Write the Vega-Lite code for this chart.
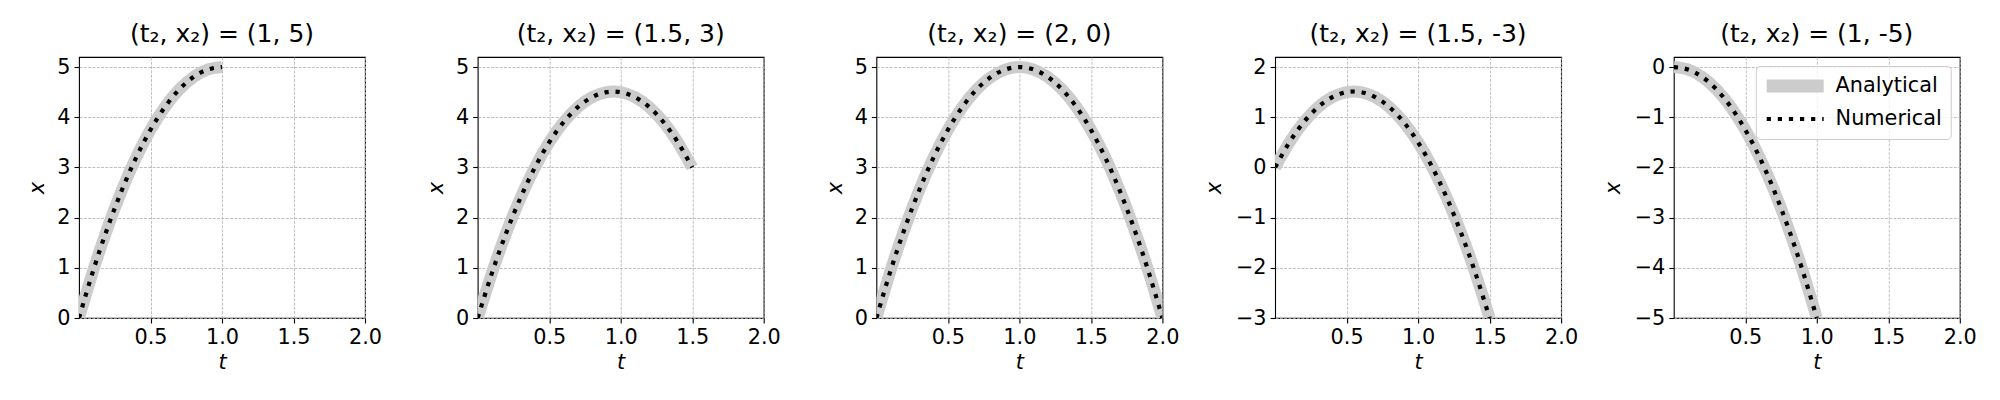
{
  "$schema": "https://vega.github.io/schema/vega-lite/v6.json",
  "background": "white",
  "padding": {"left": 26, "top": 21, "right": 0, "bottom": 0},
  "bounds": "flush",
  "spacing": 112.7,
  "datasets": {
    "traj": [
      {"p": 1, "t": 0, "x": 0}, {"p": 1, "t": 0.1, "x": 0.95}, {"p": 1, "t": 0.2, "x": 1.8}, {"p": 1, "t": 0.3, "x": 2.55}, {"p": 1, "t": 0.4, "x": 3.2}, {"p": 1, "t": 0.5, "x": 3.75}, {"p": 1, "t": 0.6, "x": 4.2}, {"p": 1, "t": 0.7, "x": 4.55}, {"p": 1, "t": 0.8, "x": 4.8}, {"p": 1, "t": 0.9, "x": 4.95}, {"p": 1, "t": 1.0, "x": 5},
      {"p": 2, "t": 0, "x": 0}, {"p": 2, "t": 0.1, "x": 0.9}, {"p": 2, "t": 0.2, "x": 1.7}, {"p": 2, "t": 0.3, "x": 2.4}, {"p": 2, "t": 0.4, "x": 3.0}, {"p": 2, "t": 0.5, "x": 3.5}, {"p": 2, "t": 0.6, "x": 3.9}, {"p": 2, "t": 0.7, "x": 4.2}, {"p": 2, "t": 0.8, "x": 4.4}, {"p": 2, "t": 0.9, "x": 4.5}, {"p": 2, "t": 1.0, "x": 4.5}, {"p": 2, "t": 1.1, "x": 4.4}, {"p": 2, "t": 1.2, "x": 4.2}, {"p": 2, "t": 1.3, "x": 3.9}, {"p": 2, "t": 1.4, "x": 3.5}, {"p": 2, "t": 1.5, "x": 3.0},
      {"p": 3, "t": 0, "x": 0}, {"p": 3, "t": 0.1, "x": 0.95}, {"p": 3, "t": 0.2, "x": 1.8}, {"p": 3, "t": 0.3, "x": 2.55}, {"p": 3, "t": 0.4, "x": 3.2}, {"p": 3, "t": 0.5, "x": 3.75}, {"p": 3, "t": 0.6, "x": 4.2}, {"p": 3, "t": 0.7, "x": 4.55}, {"p": 3, "t": 0.8, "x": 4.8}, {"p": 3, "t": 0.9, "x": 4.95}, {"p": 3, "t": 1.0, "x": 5}, {"p": 3, "t": 1.1, "x": 4.95}, {"p": 3, "t": 1.2, "x": 4.8}, {"p": 3, "t": 1.3, "x": 4.55}, {"p": 3, "t": 1.4, "x": 4.2}, {"p": 3, "t": 1.5, "x": 3.75}, {"p": 3, "t": 1.6, "x": 3.2}, {"p": 3, "t": 1.7, "x": 2.55}, {"p": 3, "t": 1.8, "x": 1.8}, {"p": 3, "t": 1.9, "x": 0.95}, {"p": 3, "t": 2.0, "x": 0},
      {"p": 4, "t": 0, "x": 0}, {"p": 4, "t": 0.1, "x": 0.5}, {"p": 4, "t": 0.2, "x": 0.9}, {"p": 4, "t": 0.3, "x": 1.2}, {"p": 4, "t": 0.4, "x": 1.4}, {"p": 4, "t": 0.5, "x": 1.5}, {"p": 4, "t": 0.6, "x": 1.5}, {"p": 4, "t": 0.7, "x": 1.4}, {"p": 4, "t": 0.8, "x": 1.2}, {"p": 4, "t": 0.9, "x": 0.9}, {"p": 4, "t": 1.0, "x": 0.5}, {"p": 4, "t": 1.1, "x": 0}, {"p": 4, "t": 1.2, "x": -0.6}, {"p": 4, "t": 1.3, "x": -1.3}, {"p": 4, "t": 1.4, "x": -2.1}, {"p": 4, "t": 1.5, "x": -3.0},
      {"p": 5, "t": 0, "x": 0}, {"p": 5, "t": 0.1, "x": -0.05}, {"p": 5, "t": 0.2, "x": -0.2}, {"p": 5, "t": 0.3, "x": -0.45}, {"p": 5, "t": 0.4, "x": -0.8}, {"p": 5, "t": 0.5, "x": -1.25}, {"p": 5, "t": 0.6, "x": -1.8}, {"p": 5, "t": 0.7, "x": -2.45}, {"p": 5, "t": 0.8, "x": -3.2}, {"p": 5, "t": 0.9, "x": -4.05}, {"p": 5, "t": 1.0, "x": -5}
    ]
  },
  "resolve": {"scale": {"color": "independent"}, "legend": {"color": "independent"}},
  "hconcat": [
    {
      "width": 286, "height": 261,
      "title": "(t₂, x₂) = (1, 5)",
      "data": {"name": "traj"},
      "transform": [{"filter": "datum.p == 1"}],
      "encoding": {
        "x": {"field": "t", "type": "quantitative", "scale": {"domain": [0, 2], "nice": false}, "axis": {"values": [0.5, 1, 1.5, 2], "format": ".1f", "title": "t"}},
        "y": {"field": "x", "type": "quantitative", "scale": {"domain": [0, 5.2], "nice": false, "zero": false}, "axis": {"values": [0, 1, 2, 3, 4, 5], "title": "x", "minExtent": 29.3, "maxExtent": 29.3}}
      },
      "layer": [
        {"mark": {"type": "line", "clip": true, "interpolate": "natural", "color": "#cccccc", "strokeWidth": 12, "strokeCap": "butt"}},
        {"mark": {"type": "line", "clip": true, "interpolate": "natural", "color": "black", "strokeWidth": 4.2, "strokeDash": [4.2, 6.9], "strokeCap": "butt"}}
      ]
    },
    {
      "width": 286, "height": 261,
      "title": "(t₂, x₂) = (1.5, 3)",
      "data": {"name": "traj"},
      "transform": [{"filter": "datum.p == 2"}],
      "encoding": {
        "x": {"field": "t", "type": "quantitative", "scale": {"domain": [0, 2], "nice": false}, "axis": {"values": [0.5, 1, 1.5, 2], "format": ".1f", "title": "t"}},
        "y": {"field": "x", "type": "quantitative", "scale": {"domain": [0, 5.2], "nice": false, "zero": false}, "axis": {"values": [0, 1, 2, 3, 4, 5], "title": "x", "minExtent": 29.3, "maxExtent": 29.3}}
      },
      "layer": [
        {"mark": {"type": "line", "clip": true, "interpolate": "natural", "color": "#cccccc", "strokeWidth": 12, "strokeCap": "butt"}},
        {"mark": {"type": "line", "clip": true, "interpolate": "natural", "color": "black", "strokeWidth": 4.2, "strokeDash": [4.2, 6.9], "strokeCap": "butt"}}
      ]
    },
    {
      "width": 286, "height": 261,
      "title": "(t₂, x₂) = (2, 0)",
      "data": {"name": "traj"},
      "transform": [{"filter": "datum.p == 3"}],
      "encoding": {
        "x": {"field": "t", "type": "quantitative", "scale": {"domain": [0, 2], "nice": false}, "axis": {"values": [0.5, 1, 1.5, 2], "format": ".1f", "title": "t"}},
        "y": {"field": "x", "type": "quantitative", "scale": {"domain": [0, 5.2], "nice": false, "zero": false}, "axis": {"values": [0, 1, 2, 3, 4, 5], "title": "x", "minExtent": 29.3, "maxExtent": 29.3}}
      },
      "layer": [
        {"mark": {"type": "line", "clip": true, "interpolate": "natural", "color": "#cccccc", "strokeWidth": 12, "strokeCap": "butt"}},
        {"mark": {"type": "line", "clip": true, "interpolate": "natural", "color": "black", "strokeWidth": 4.2, "strokeDash": [4.2, 6.9], "strokeCap": "butt"}}
      ]
    },
    {
      "width": 286, "height": 261,
      "title": "(t₂, x₂) = (1.5, -3)",
      "data": {"name": "traj"},
      "transform": [{"filter": "datum.p == 4"}],
      "encoding": {
        "x": {"field": "t", "type": "quantitative", "scale": {"domain": [0, 2], "nice": false}, "axis": {"values": [0.5, 1, 1.5, 2], "format": ".1f", "title": "t"}},
        "y": {"field": "x", "type": "quantitative", "scale": {"domain": [-3, 2.2], "nice": false, "zero": false}, "axis": {"values": [-3, -2, -1, 0, 1, 2], "title": "x", "minExtent": 48.8, "maxExtent": 48.8}}
      },
      "layer": [
        {"mark": {"type": "line", "clip": true, "interpolate": "natural", "color": "#cccccc", "strokeWidth": 12, "strokeCap": "butt"}},
        {"mark": {"type": "line", "clip": true, "interpolate": "natural", "color": "black", "strokeWidth": 4.2, "strokeDash": [4.2, 6.9], "strokeCap": "butt"}}
      ]
    },
    {
      "width": 286, "height": 261,
      "title": "(t₂, x₂) = (1, -5)",
      "data": {"name": "traj"},
      "transform": [{"filter": "datum.p == 5"}],
      "encoding": {
        "x": {"field": "t", "type": "quantitative", "scale": {"domain": [0, 2], "nice": false}, "axis": {"values": [0.5, 1, 1.5, 2], "format": ".1f", "title": "t"}},
        "y": {"field": "x", "type": "quantitative", "scale": {"domain": [-5, 0.2], "nice": false, "zero": false}, "axis": {"values": [-5, -4, -3, -2, -1, 0], "title": "x", "minExtent": 48.8, "maxExtent": 48.8}}
      },
      "layer": [
        {"mark": {"type": "line", "clip": true, "interpolate": "natural", "strokeWidth": 12, "strokeCap": "butt"},
         "encoding": {"color": {"datum": "Analytical", "type": "nominal", "scale": {"domain": ["Analytical", "Numerical"], "range": ["#cccccc", "black"]},
           "legend": {"title": null, "orient": "top-right", "offset": 9,
             "symbolType": "stroke", "symbolSize": 3249, "symbolStrokeWidth": 12, "symbolOffset": 20,
             "clipHeight": 22, "rowPadding": 11, "labelOffset": 30, "padding": 9,
             "labelFont": "DejaVu Sans", "labelFontSize": 20.8, "labelColor": "black",
             "strokeColor": "#cccccc", "fillColor": "rgba(255,255,255,0.8)", "cornerRadius": 4,
             "encode": {"symbols": {"update": {"strokeWidth": {"signal": "datum.value === 'Analytical' ? 13 : 4.2"}, "strokeDash": {"signal": "datum.value === 'Analytical' ? [1, 0] : [4.2, 6.9]"}}}}}}}},
        {"mark": {"type": "line", "clip": true, "interpolate": "natural", "strokeWidth": 4.2, "strokeDash": [4.2, 6.9], "strokeCap": "butt"},
         "encoding": {"color": {"datum": "Numerical", "type": "nominal"}}}
      ]
    }
  ],
  "config": {
    "font": "DejaVu Sans",
    "view": {"stroke": "black", "strokeWidth": 1.1},
    "axis": {
      "labelFont": "DejaVu Sans", "labelFontSize": 20.8, "labelColor": "black",
      "titleFont": "DejaVu Sans", "titleFontSize": 20.8, "titleFontStyle": "italic", "titleFontWeight": "normal", "titleColor": "black",
      "tickColor": "black", "tickSize": 5, "tickWidth": 1.1, "domain": false,
      "grid": true, "gridColor": "#b0b0b0", "gridDash": [3, 1.3], "gridWidth": 0.8, "gridOpacity": 1,
      "labelFlush": false, "labelOverlap": false, "labelPadding": 4
    },
    "axisX": {"titlePadding": 6},
    "axisY": {"titlePadding": 2},
    "title": {"font": "DejaVu Sans", "fontSize": 25, "fontWeight": "normal", "color": "black", "offset": 9, "baseline": "alphabetic", "anchor": "middle", "frame": "group"}
  }
}
